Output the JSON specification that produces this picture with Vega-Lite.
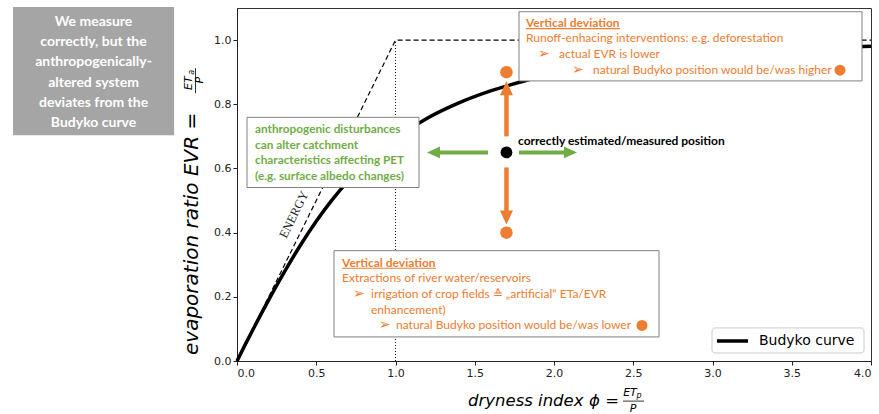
{
  "$schema": "https://vega.github.io/schema/vega-lite/v6.json",
  "width": 634,
  "height": 353,
  "autosize": {"type": "none"},
  "padding": {"left": 237, "top": 8, "right": 8, "bottom": 53},
  "background": "white",
  "config": {
    "view": {"stroke": "#333", "strokeWidth": 1},
    "axis": {
      "grid": false,
      "domainColor": "#222",
      "tickColor": "#222",
      "tickSize": 4,
      "labelFont": "DejaVu Sans",
      "labelFontSize": 11,
      "labelColor": "#222",
      "labelPadding": 2
    }
  },
  "datasets": {
    "budyko": [
      {"x": 0, "y": 0}, {"x": 0.05, "y": 0.0494}, {"x": 0.1, "y": 0.0976}, {"x": 0.15, "y": 0.1445},
      {"x": 0.2, "y": 0.1904}, {"x": 0.3, "y": 0.2785}, {"x": 0.4, "y": 0.3607}, {"x": 0.5, "y": 0.4355},
      {"x": 0.6, "y": 0.5021}, {"x": 0.7, "y": 0.5605}, {"x": 0.8, "y": 0.6113}, {"x": 0.9, "y": 0.6555},
      {"x": 1.0, "y": 0.6938}, {"x": 1.2, "y": 0.7565}, {"x": 1.4, "y": 0.8043}, {"x": 1.6, "y": 0.8415},
      {"x": 1.8, "y": 0.8708}, {"x": 2.0, "y": 0.894}, {"x": 2.25, "y": 0.9166}, {"x": 2.5, "y": 0.9338},
      {"x": 2.75, "y": 0.947}, {"x": 3.0, "y": 0.9573}, {"x": 3.25, "y": 0.9654}, {"x": 3.5, "y": 0.9717},
      {"x": 3.75, "y": 0.9767}, {"x": 4.0, "y": 0.9807}
    ],
    "energyLimit": [{"x": 0, "y": 0}, {"x": 1, "y": 1}, {"x": 4, "y": 1}],
    "waterLimit": [{"x": 1, "y": 0}, {"x": 1, "y": 1}],
    "greyBox": [{"x": -1.413, "x2": -0.397, "y": 1.1031, "y2": 0.7031}],
    "greyText": [
      {"x": -0.905, "y": 1.0563, "text": "We measure"},
      {"x": -0.905, "y": 0.9931, "text": "correctly, but the"},
      {"x": -0.905, "y": 0.9306, "text": "anthropogenically-"},
      {"x": -0.905, "y": 0.8669, "text": "altered system"},
      {"x": -0.905, "y": 0.8038, "text": "deviates from the"},
      {"x": -0.905, "y": 0.7406, "text": "Budyko curve"}
    ],
    "noteBoxes": [
      {"x": 0.0631, "x2": 1.1483, "y": 0.7594, "y2": 0.5406},
      {"x": 1.7792, "x2": 3.9432, "y": 1.0884, "y2": 0.8728},
      {"x": 0.612, "x2": 2.6625, "y": 0.34375, "y2": 0.075}
    ],
    "greenText": [
      {"x": 0.1136, "y": 0.7219, "text": "anthropogenic disturbances"},
      {"x": 0.1136, "y": 0.6734, "text": "can alter catchment"},
      {"x": 0.1136, "y": 0.625, "text": "characteristics affecting PET"},
      {"x": 0.1136, "y": 0.5766, "text": "(e.g. surface albedo changes)"}
    ],
    "orangeHeads": [
      {"x": 1.8233, "y": 1.0531, "text": "Vertical deviation"},
      {"x": 0.6625, "y": 0.30625, "text": "Vertical deviation"}
    ],
    "underlines": [
      {"x": 1.8233, "x2": 2.4164, "y": 1.0359},
      {"x": 0.6625, "x2": 1.2555, "y": 0.2891}
    ],
    "orangeText": [
      {"x": 1.8233, "y": 1.0063, "text": "Runoff-enhacing interventions: e.g. deforestation"},
      {"x": 2.0315, "y": 0.9563, "text": "actual EVR is lower"},
      {"x": 2.2461, "y": 0.9063, "text": "natural Budyko position would be/was higher"},
      {"x": 0.6625, "y": 0.2594, "text": "Extractions of river water/reservoirs"},
      {"x": 0.8454, "y": 0.2094, "text": "irrigation of crop fields ≙ „artificial“ ETa/EVR"},
      {"x": 0.8454, "y": 0.1594, "text": "enhancement)"},
      {"x": 1.0032, "y": 0.1109, "text": "natural Budyko position would be/was lower"}
    ],
    "bullets": [
      {"x": 1.8991, "y": 0.9563, "text": "➢"},
      {"x": 2.1136, "y": 0.9063, "text": "➢"},
      {"x": 0.7319, "y": 0.2094, "text": "➢"},
      {"x": 0.8959, "y": 0.1109, "text": "➢"}
    ],
    "inlineDots": [
      {"x": 3.8044, "y": 0.9063},
      {"x": 2.5552, "y": 0.1109}
    ],
    "positionLabel": [{"x": 1.7729, "y": 0.6844, "text": "correctly estimated/measured position"}],
    "orangeShafts": [
      {"x": 1.7, "y": 0.7, "y2": 0.8344},
      {"x": 1.7, "y": 0.6031, "y2": 0.4656}
    ],
    "greenShafts": [
      {"x": 1.7792, "x2": 2.0757, "y": 0.65},
      {"x": 1.5836, "x2": 1.2681, "y": 0.65}
    ],
    "headUp": [{"x": 1.7, "y": 0.85}],
    "headDown": [{"x": 1.7, "y": 0.4469}],
    "headRight": [{"x": 2.1041, "y": 0.65}],
    "headLeft": [{"x": 1.2397, "y": 0.65}],
    "shiftedPoints": [{"x": 1.7, "y": 0.9}, {"x": 1.7, "y": 0.4}],
    "measuredPoint": [{"x": 1.7, "y": 0.65}],
    "energyLabel": [{"x": 0.3596, "y": 0.4563, "text": "ENERGY"}],
    "legendBox": [{"x": 2.997, "x2": 3.956, "y": 0.1031, "y2": 0.025}],
    "legendLine": [{"x": 3.028, "x2": 3.224, "y": 0.0625}],
    "legendText": [{"x": 3.293, "y": 0.0625, "text": "Budyko curve"}],
    "xTitle": [
      {"x": 1.4574, "y": -0.125, "text": "dryness index"},
      {"x": 2.2208, "y": -0.125, "text": "ϕ ="}
    ],
    "xFracTop": [{"x": 2.4795, "y": -0.1, "text": "ET"}],
    "xFracSub": [{"x": 2.5363, "y": -0.1094, "text": "p"}],
    "xFracBottom": [{"x": 2.4984, "y": -0.15, "text": "P"}],
    "xFracBar": [{"x": 2.4353, "x2": 2.5678, "y": -0.125}],
    "yTitle": [{"x": -0.2839, "y": 0.01875, "text": "evaporation ratio  EVR ="}],
    "yFracTop": [{"x": -0.3028, "y": 0.8656, "text": "ET"}],
    "yFracSub": [{"x": -0.2839, "y": 0.9, "text": "a"}],
    "yFracBottom": [{"x": -0.2303, "y": 0.875, "text": "P"}],
    "yFracBar": [{"x": -0.2618, "y": 0.9125, "y2": 0.8344}]
  },
  "encoding": {
    "x": {
      "field": "x", "type": "quantitative",
      "scale": {"domain": [0, 4], "nice": false, "zero": false},
      "axis": {"values": [0, 0.5, 1, 1.5, 2, 2.5, 3, 3.5, 4], "format": ".1f", "title": null}
    },
    "y": {
      "field": "y", "type": "quantitative",
      "scale": {"domain": [0, 1.1], "nice": false, "zero": false},
      "axis": {"values": [0, 0.2, 0.4, 0.6, 0.8, 1.0], "format": ".1f", "title": null}
    }
  },
  "layer": [
    {"data": {"name": "energyLimit"}, "mark": {"type": "line", "color": "black", "strokeWidth": 1.2, "strokeDash": [5, 3]}},
    {"data": {"name": "waterLimit"}, "mark": {"type": "line", "color": "#222", "strokeWidth": 1.1, "strokeDash": [1, 2]}},
    {"data": {"name": "budyko"}, "mark": {"type": "line", "color": "black", "strokeWidth": 3.5, "interpolate": "monotone"}},
    {"data": {"name": "energyLabel"}, "mark": {"type": "text", "font": "Liberation Serif", "fontSize": 12.5, "angle": 296.4, "align": "center", "baseline": "middle", "color": "#222"}, "encoding": {"text": {"field": "text"}}},
    {"data": {"name": "greyBox"}, "mark": {"type": "rect", "fill": "#A5A5A5", "clip": false}, "encoding": {"x2": {"field": "x2"}, "y2": {"field": "y2"}}},
    {"data": {"name": "greyText"}, "mark": {"type": "text", "font": "Lato", "fontWeight": "bold", "fontSize": 14, "color": "white", "align": "center", "baseline": "middle"}, "encoding": {"text": {"field": "text"}}},
    {"data": {"name": "noteBoxes"}, "mark": {"type": "rect", "fill": "white", "stroke": "#808080", "strokeWidth": 1}, "encoding": {"x2": {"field": "x2"}, "y2": {"field": "y2"}}},
    {"data": {"name": "greenText"}, "mark": {"type": "text", "font": "Lato", "fontWeight": "bold", "fontSize": 11.8, "color": "#70AD47", "align": "left", "baseline": "middle"}, "encoding": {"text": {"field": "text"}}},
    {"data": {"name": "orangeHeads"}, "mark": {"type": "text", "font": "Lato", "fontWeight": "bold", "fontSize": 12, "color": "#ED7D31", "align": "left", "baseline": "middle"}, "encoding": {"text": {"field": "text"}}},
    {"data": {"name": "underlines"}, "mark": {"type": "rule", "color": "#ED7D31", "strokeWidth": 1.2}, "encoding": {"x2": {"field": "x2"}}},
    {"data": {"name": "orangeText"}, "mark": {"type": "text", "font": "Lato", "fontSize": 12, "color": "#ED7D31", "align": "left", "baseline": "middle"}, "encoding": {"text": {"field": "text"}}},
    {"data": {"name": "bullets"}, "mark": {"type": "text", "font": "DejaVu Sans", "fontSize": 14, "color": "#ED7D31", "align": "left", "baseline": "middle"}, "encoding": {"text": {"field": "text"}}},
    {"data": {"name": "inlineDots"}, "mark": {"type": "point", "shape": "circle", "filled": true, "size": 121, "color": "#ED7D31", "opacity": 1}},
    {"data": {"name": "positionLabel"}, "mark": {"type": "text", "font": "Lato", "fontWeight": "bold", "fontSize": 12, "color": "black", "align": "left", "baseline": "middle"}, "encoding": {"text": {"field": "text"}}},
    {"data": {"name": "orangeShafts"}, "mark": {"type": "rule", "color": "#ED7D31", "strokeWidth": 4.5}, "encoding": {"y2": {"field": "y2"}}},
    {"data": {"name": "greenShafts"}, "mark": {"type": "rule", "color": "#70AD47", "strokeWidth": 4}, "encoding": {"x2": {"field": "x2"}}},
    {"data": {"name": "headUp"}, "mark": {"type": "point", "shape": "M0,-1L0.93,1L-0.93,1Z", "filled": true, "size": 196, "color": "#ED7D31", "opacity": 1, "strokeWidth": 0}},
    {"data": {"name": "headDown"}, "mark": {"type": "point", "shape": "M0,1L0.93,-1L-0.93,-1Z", "filled": true, "size": 196, "color": "#ED7D31", "opacity": 1, "strokeWidth": 0}},
    {"data": {"name": "headRight"}, "mark": {"type": "point", "shape": "M1,0L-1,0.9L-1,-0.9Z", "filled": true, "size": 169, "color": "#70AD47", "opacity": 1, "strokeWidth": 0}},
    {"data": {"name": "headLeft"}, "mark": {"type": "point", "shape": "M-1,0L1,-0.9L1,0.9Z", "filled": true, "size": 169, "color": "#70AD47", "opacity": 1, "strokeWidth": 0}},
    {"data": {"name": "shiftedPoints"}, "mark": {"type": "point", "shape": "circle", "filled": true, "size": 156, "color": "#ED7D31", "opacity": 1}},
    {"data": {"name": "measuredPoint"}, "mark": {"type": "point", "shape": "circle", "filled": true, "size": 140, "color": "black", "opacity": 1}},
    {"data": {"name": "legendBox"}, "mark": {"type": "rect", "fill": "white", "stroke": "#CCCCCC", "strokeWidth": 1, "cornerRadius": 3}, "encoding": {"x2": {"field": "x2"}, "y2": {"field": "y2"}}},
    {"data": {"name": "legendLine"}, "mark": {"type": "rule", "color": "black", "strokeWidth": 3.5}, "encoding": {"x2": {"field": "x2"}}},
    {"data": {"name": "legendText"}, "mark": {"type": "text", "font": "DejaVu Sans", "fontSize": 14, "color": "black", "align": "left", "baseline": "middle"}, "encoding": {"text": {"field": "text"}}},
    {"data": {"name": "xTitle"}, "mark": {"type": "text", "font": "DejaVu Sans", "fontStyle": "italic", "fontSize": 16.5, "color": "black", "align": "left", "baseline": "middle"}, "encoding": {"text": {"field": "text"}}},
    {"data": {"name": "xFracTop"}, "mark": {"type": "text", "font": "DejaVu Sans", "fontStyle": "italic", "fontSize": 11, "color": "black", "align": "center", "baseline": "middle"}, "encoding": {"text": {"field": "text"}}},
    {"data": {"name": "xFracSub"}, "mark": {"type": "text", "font": "DejaVu Sans", "fontStyle": "italic", "fontSize": 8, "color": "black", "align": "center", "baseline": "middle"}, "encoding": {"text": {"field": "text"}}},
    {"data": {"name": "xFracBottom"}, "mark": {"type": "text", "font": "DejaVu Sans", "fontStyle": "italic", "fontSize": 11, "color": "black", "align": "center", "baseline": "middle"}, "encoding": {"text": {"field": "text"}}},
    {"data": {"name": "xFracBar"}, "mark": {"type": "rule", "color": "black", "strokeWidth": 0.8}, "encoding": {"x2": {"field": "x2"}}},
    {"data": {"name": "yTitle"}, "mark": {"type": "text", "font": "DejaVu Sans", "fontStyle": "italic", "fontSize": 20, "color": "black", "align": "left", "baseline": "middle", "angle": 270}, "encoding": {"text": {"field": "text"}}},
    {"data": {"name": "yFracTop"}, "mark": {"type": "text", "font": "DejaVu Sans", "fontStyle": "italic", "fontSize": 11, "color": "black", "align": "center", "baseline": "middle", "angle": 270}, "encoding": {"text": {"field": "text"}}},
    {"data": {"name": "yFracSub"}, "mark": {"type": "text", "font": "DejaVu Sans", "fontStyle": "italic", "fontSize": 8, "color": "black", "align": "center", "baseline": "middle", "angle": 270}, "encoding": {"text": {"field": "text"}}},
    {"data": {"name": "yFracBottom"}, "mark": {"type": "text", "font": "DejaVu Sans", "fontStyle": "italic", "fontSize": 11, "color": "black", "align": "center", "baseline": "middle", "angle": 270}, "encoding": {"text": {"field": "text"}}},
    {"data": {"name": "yFracBar"}, "mark": {"type": "rule", "color": "black", "strokeWidth": 0.8}, "encoding": {"y2": {"field": "y2"}}}
  ]
}
